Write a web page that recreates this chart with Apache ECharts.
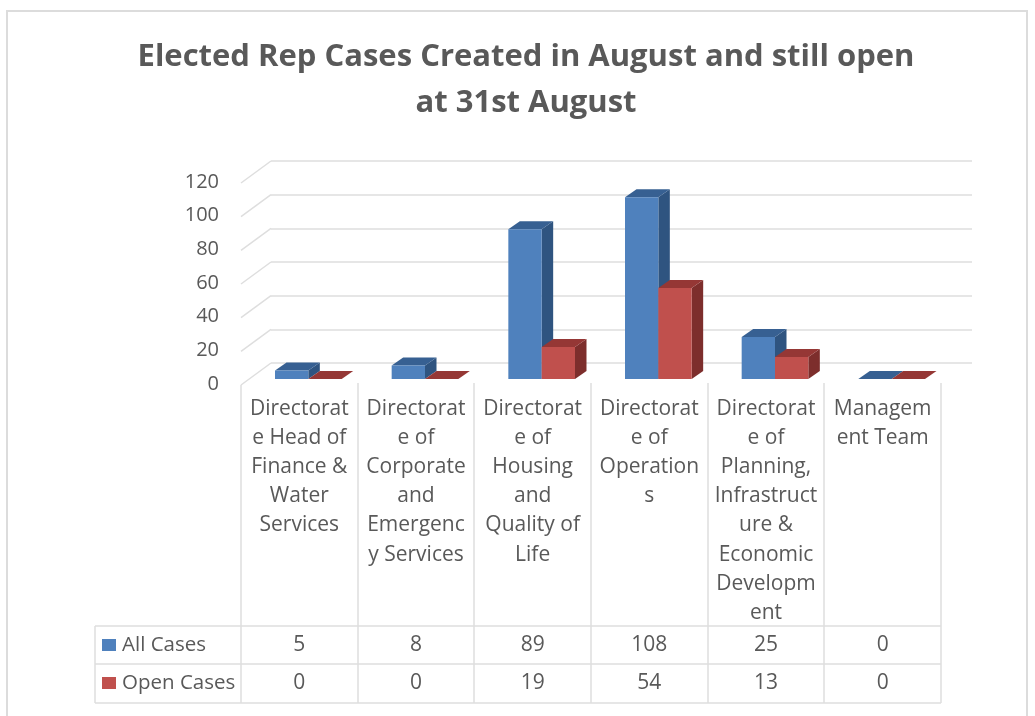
<!DOCTYPE html>
<html>
<head>
<meta charset="utf-8">
<title>Elected Rep Cases</title>
<script src="https://cdn.jsdelivr.net/npm/echarts@6/dist/echarts.min.js"></script>
<style>
html, body { margin: 0; padding: 0; background: #fff; }
#main { width: 1035px; height: 716px; }
</style>
</head>
<body>
<div id="main"></div>
<script>
var categories = [
    "Directorat\ne Head of\nFinance &\nWater\nServices",
    "Directorat\ne of\nCorporate\nand\nEmergenc\ny Services",
    "Directorat\ne of\nHousing\nand\nQuality of\nLife",
    "Directorat\ne of\nOperation\ns",
    "Directorat\ne of\nPlanning,\nInfrastruct\nure &\nEconomic\nDevelopm\nent",
    "Managem\nent Team"
];
var allCases = [5, 8, 89, 108, 25, 0];
var openCases = [0, 0, 19, 54, 13, 0];
var yTicks = [0, 20, 40, 60, 80, 100, 120];

var FONT = "'Open Sans'";
var TEXT = "#595959";
var LINE = "#dedede";

// plot front plane
var plotLeft = 241, plotRight = 941, plotTop = 183, plotBottom = 385;
var wallDx = 30, wallDy = 22;   // depth of the whole 3d box
var barDx = 9, barDy = 6;       // where the bars stand inside the box
var sideDx = 11.5, sideDy = 8;  // depth of a bar

function bar3d(offset, front, top, side){
    return function(params, api){
        var i = api.value(0), v = api.value(1);
        var w = api.size([1, 0])[0] * 0.2857;
        var c = api.coord([i, v]);
        var b = api.coord([i, 0]);
        var x0 = c[0] + offset * w + barDx, x1 = x0 + w;
        var y0 = c[1] - barDy, y1 = b[1] - barDy;
        return {
            type: "group",
            children: [
                {type: "polygon", shape: {points: [[x1, y0], [x1 + sideDx, y0 - sideDy], [x1 + sideDx, y1 - sideDy], [x1, y1]]}, style: {fill: side}},
                {type: "polygon", shape: {points: [[x0, y0], [x0 + sideDx, y0 - sideDy], [x1 + sideDx, y0 - sideDy], [x1, y0]]}, style: {fill: top}},
                {type: "rect", shape: {x: x0, y: y0, width: w, height: y1 - y0}, style: {fill: front}}
            ]
        };
    };
}

// table lines, frame
var graphics = [
    {type: "rect", shape: {x: 7, y: 11, width: 1020, height: 760}, style: {fill: "none", stroke: "#dcdcdc", lineWidth: 2}, silent: true}
];
var cellW = (plotRight - plotLeft) / categories.length;
for (var k = 0; k <= categories.length; k++) {
    var lx = Math.round(plotLeft + k * cellW);
    graphics.push({type: "line", shape: {x1: lx, y1: k === 0 ? plotBottom : 383, x2: lx, y2: 703}, style: {stroke: LINE, lineWidth: 1.5}, silent: true});
}
[626, 664, 703].forEach(function(ly){
    graphics.push({type: "line", shape: {x1: 95, y1: ly, x2: plotRight, y2: ly}, style: {stroke: LINE, lineWidth: 1.5}, silent: true});
});
graphics.push({type: "line", shape: {x1: 95, y1: 626, x2: 95, y2: 703}, style: {stroke: LINE, lineWidth: 1.5}, silent: true});

function rowAxis(values, off){
    return {
        type: "category", gridIndex: 0, position: "bottom", offset: off,
        data: values.map(String),
        axisLine: {show: false}, axisTick: {show: false},
        axisLabel: {margin: 0, fontFamily: FONT, fontSize: 21, color: TEXT, interval: 0, lineHeight: 24}
    };
}

var option = {
    backgroundColor: "#fff",
    animation: false,
    title: {
        text: "Elected Rep Cases Created in August and still open\nat 31st August",
        left: 521, top: 29, textAlign: "center",
        textStyle: {fontFamily: FONT, fontSize: 31, fontWeight: 700, color: TEXT, lineHeight: 46}
    },
    legend: {
        orient: "vertical", left: 102, top: 633, padding: 0,
        itemWidth: 14, itemHeight: 12, itemGap: 14, icon: "rect",
        selectedMode: false,
        data: ["All Cases", "Open Cases"],
        itemStyle: {borderWidth: 0},
        textStyle: {fontFamily: FONT, fontSize: 20.5, color: TEXT, lineHeight: 24, padding: [0, 0, 0, 1]}
    },
    grid: [
        {left: plotLeft, top: plotTop, width: plotRight - plotLeft, height: plotBottom - plotTop},
        {left: plotLeft + wallDx, top: plotTop - wallDy, width: 701, height: plotBottom - plotTop}
    ],
    xAxis: [
        {
            type: "category", gridIndex: 0, data: categories,
            axisLine: {show: false}, axisTick: {show: false},
            axisLabel: {margin: 9, fontFamily: FONT, fontSize: 21, color: TEXT, interval: 0, lineHeight: 29.2, verticalAlign: "top"}
        },
        {type: "category", gridIndex: 1, show: false, data: categories},
        rowAxis(allCases, 248),
        rowAxis(openCases, 286)
    ],
    yAxis: [
        {
            type: "value", gridIndex: 0, min: 0, max: 120, interval: 20,
            axisLine: {show: false}, axisTick: {show: false}, splitLine: {show: false},
            axisLabel: {margin: 22, fontFamily: FONT, fontSize: 20, color: TEXT, verticalAlign: "bottom", lineHeight: 2}
        },
        {
            type: "value", gridIndex: 1, min: 0, max: 120, interval: 20,
            axisLine: {show: false}, axisTick: {show: false}, axisLabel: {show: false},
            splitLine: {show: true, lineStyle: {color: LINE, width: 1.5}}
        }
    ],
    series: [
        {
            // left wall of the box
            type: "custom", xAxisIndex: 0, yAxisIndex: 0, silent: true, clip: false,
            data: yTicks.map(function(t){ return [0, t]; }),
            renderItem: function(params, api){
                var p = api.coord([api.value(0), api.value(1)]);
                var x = p[0] - api.size([1, 0])[0] / 2;
                return {type: "line", shape: {x1: x, y1: p[1], x2: x + wallDx, y2: p[1] - wallDy}, style: {stroke: LINE, lineWidth: 1.5}};
            }
        },
        {
            name: "All Cases", type: "custom", xAxisIndex: 0, yAxisIndex: 0, clip: false,
            itemStyle: {color: "#4f81bd"},
            data: allCases.map(function(v, i){ return [i, v]; }),
            renderItem: bar3d(-1, "#4f81bd", "#376092", "#2f5480")
        },
        {
            name: "Open Cases", type: "custom", xAxisIndex: 0, yAxisIndex: 0, clip: false,
            itemStyle: {color: "#c0504d"},
            data: openCases.map(function(v, i){ return [i, v]; }),
            renderItem: bar3d(0, "#c0504d", "#953735", "#7d2e2c")
        }
    ],
    graphic: graphics
};

var chart = echarts.init(document.getElementById("main"));
chart.setOption(option);
</script>
</body>
</html>
